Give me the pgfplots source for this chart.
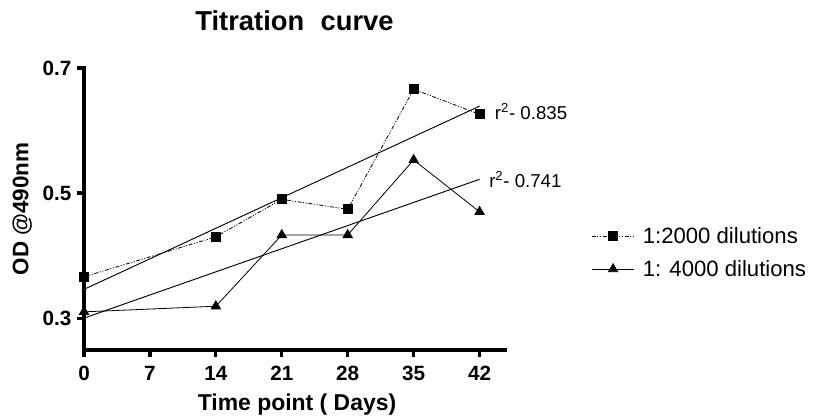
\documentclass[border=0pt]{standalone}
\usepackage{pgfplots}
\pgfplotsset{compat=1.18}
\usepackage{fontspec}
\setmainfont{Liberation Sans}

\begin{document}
\begin{tikzpicture}[x=1pt,y=1pt]
% 1px = 0.75pt; plot origin (xmin,ymin) sits at px (84,350)
\useasboundingbox (-63,-51) rectangle (546.75,262.5);
\begin{axis}[
  at={(0,0)}, anchor=south west,
  scale only axis,
  width=315.75pt, height=211.5pt,
  xmin=0, xmax=44.7, ymin=0.249, ymax=0.7,
  axis lines=left,
  every outer x axis line/.append style={-, line width=3pt, line cap=rect},
  every outer y axis line/.append style={-, line width=3pt, line cap=rect},
  xtick={0,7,14,21,28,35,42},
  ytick={0.3,0.5,0.7},
  yticklabels={0.3,0.5,0.7},
  every tick/.style={line width=2.4pt, black},
  tick align=outside,
  major tick length=5.5pt,
  /pgf/number format/assume math mode=true,
  ticklabel style={font=\fontsize{15.5}{16}\selectfont\bfseries},
  xticklabel style={yshift=-3pt},
  yticklabel style={xshift=-0.5pt},
  title={Titration\hspace{0.6em}curve},
  title style={at={(0.5,1.14)}, anchor=center, font=\fontsize{20.5}{22}\selectfont\bfseries},
  xlabel={Time point ( Days)},
  xlabel style={at={(0.506,-0.193)}, anchor=center, font=\fontsize{17.2}{18}\selectfont\bfseries},
  ylabel={OD @490nm},
  ylabel style={at={(-0.147,0.50)}, anchor=center, font=\fontsize{16.8}{18}\selectfont\bfseries},
  clip=false,
  legend style={at={(1.195,0.345)}, anchor=west, draw=none, fill=none,
    font=\fontsize{16.6}{18}\selectfont, row sep=7pt,
    /tikz/every odd column/.append style={column sep=4pt}},
  legend cell align=left,
  legend image code/.code={
    \draw[#1, mark repeat=2, mark phase=2] plot coordinates {(0pt,0pt) (16pt,0pt) (32pt,0pt)};
  },
]
\addplot[black, line width=0.6pt, dash pattern=on 3pt off 1.2pt on 0.8pt off 1.2pt on 0.8pt off 1.2pt,
  mark=square*, mark size=3.4pt, mark options={solid}]
  coordinates {(0,0.366) (14,0.430) (21,0.490) (28,0.474) (35,0.666) (42,0.626)};
\addlegendentry{1:2000 dilutions}
\addplot[black, line width=0.6pt, mark=triangle*, mark size=4pt, mark options={solid}]
  coordinates {(0,0.310) (14,0.319) (21,0.433) (28,0.433) (35,0.553) (42,0.470)};
\addlegendentry{1: 4000 dilutions}
% linear fits
\addplot[black, line width=0.7pt, forget plot] coordinates {(0,0.346) (42,0.639)};
\addplot[black, line width=0.7pt, forget plot] coordinates {(0,0.300) (42,0.522)};
\node[anchor=west, font=\fontsize{14}{15}\selectfont, inner sep=0pt] at (axis cs:43.6,0.630) {r\textsuperscript{2}- 0.835};
\node[anchor=west, font=\fontsize{14}{15}\selectfont, inner sep=0pt] at (axis cs:43.0,0.521) {r\textsuperscript{2}- 0.741};
\end{axis}
\end{tikzpicture}
\end{document}
